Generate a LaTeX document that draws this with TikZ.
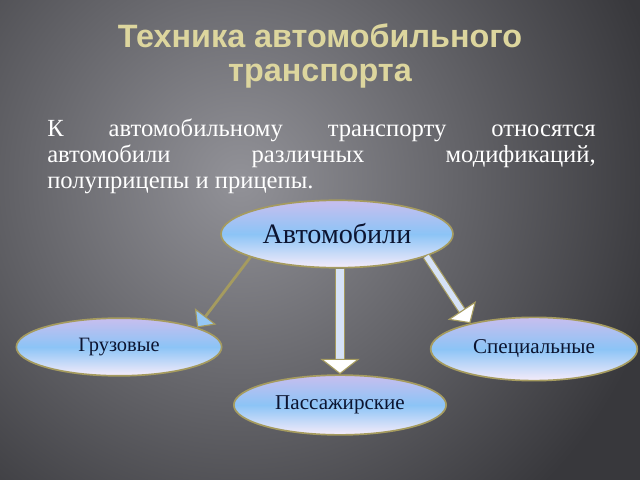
\documentclass[tikz,border=0pt]{standalone}
\usepackage{fontspec}
\setmainfont{Liberation Serif}
\newfontfamily\titlefont{Liberation Sans}
\usetikzlibrary{shapes.geometric,arrows.meta}

\definecolor{bgdark}{RGB}{56,56,60}
\definecolor{bglight}{RGB}{146,146,152}
\definecolor{titlecol}{RGB}{221,214,158}
\definecolor{rimcol}{RGB}{165,155,95}
\definecolor{ovtop}{RGB}{200,190,238}
\definecolor{ovmid}{RGB}{140,196,246}
\definecolor{ovbot}{RGB}{246,236,250}
\definecolor{inkcol}{RGB}{12,20,48}
\definecolor{shaftcol}{RGB}{214,226,246}
\definecolor{headblue}{RGB}{150,200,245}

\begin{document}
\begin{tikzpicture}[x=0.025cm,y=-0.025cm,
	oval/.style={ellipse, draw=rimcol, line width=1.2pt, top color=ovtop, bottom color=ovbot, middle color=ovmid, inner sep=0pt, text=inkcol},
	thinarrow/.style={draw=rimcol, line width=2pt, -{Triangle[width=19pt,length=10pt,line width=0.8pt,color=rimcol,fill=headblue]}},
	downarrow/.style={draw=shaftcol, line width=5pt, preaction={draw=rimcol, line width=7pt, arrows=-, shorten >=10pt}, -{Triangle[width=28pt,length=11pt,line width=0.8pt,color=rimcol,fill=white]}},
	sidearrow/.style={draw=shaftcol, line width=4pt, preaction={draw=rimcol, line width=5.7pt, arrows=-, shorten >=10pt}, -{Triangle[width=24pt,length=11pt,line width=0.8pt,color=rimcol,fill=white]}}
	]
	\useasboundingbox (0,0) rectangle (640,480);

	% Background
	\fill[bgdark] (0,0) rectangle (640,480);
	\begin{scope}
		\clip (0,0) rectangle (640,480);
		\shade[inner color=bglight, outer color=bgdark] (240,180) circle (430);
	\end{scope}

	% Title and text
	\node[font=\titlefont\bfseries\fontsize{23}{24}\selectfont, text=titlecol, align=center, anchor=base] (title) at (320,81) {Техника автомобильного\\транспорта};
	\node[font=\fontsize{17.5}{18.5}\selectfont, text=white, text width=390pt, align=justify, anchor=base west, inner sep=0pt] (body) at (47,136) {К автомобильному транспорту относятся\linebreak автомобили различных модификаций,\linebreak полуприцепы и прицепы.};

	% Ovals
	\node[oval, minimum width=165pt, minimum height=48pt, font=\fontsize{20}{24}\selectfont] (auto) at (337,234) {Автомобили};
	\node[oval, minimum width=146pt, minimum height=41pt, font=\fontsize{14.5}{17}\selectfont] (gruz) at (119,347) {Грузовые};
	\node[oval, minimum width=151pt, minimum height=42.5pt, font=\fontsize{15}{18}\selectfont] (pass) at (340,405) {Пассажирские};
	\node[oval, minimum width=147pt, minimum height=45pt, font=\fontsize{15}{18}\selectfont] (spec) at (534,349) {Специальные};

	% Arrows
	\draw[thinarrow] (auto.195) -- (gruz.14);
	\draw[downarrow] (pass.north |- auto.south) -- (pass.north);
	\draw[sidearrow] (auto.346) -- (spec.158);
\end{tikzpicture}
\end{document}
